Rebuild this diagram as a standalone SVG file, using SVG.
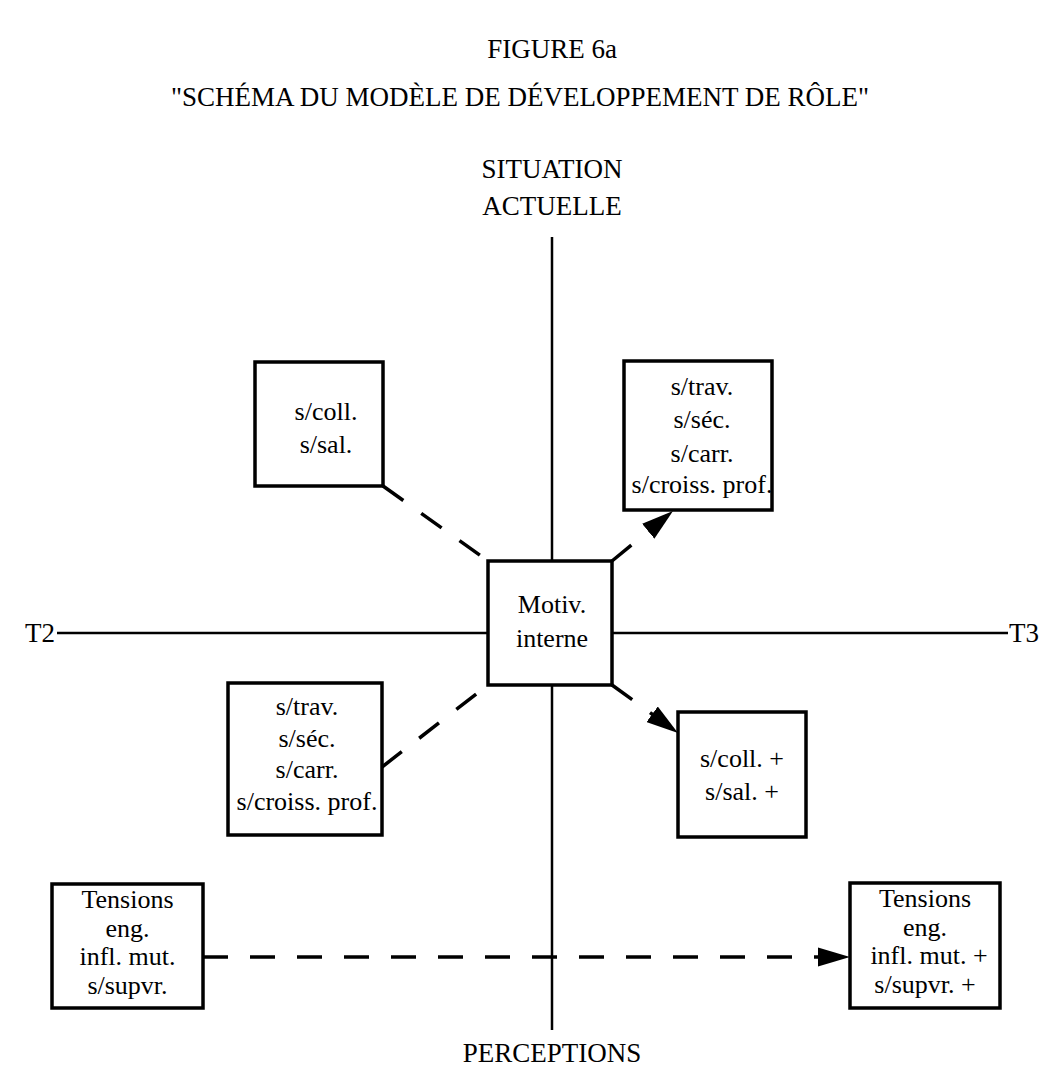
<svg xmlns="http://www.w3.org/2000/svg" width="1043" height="1085" viewBox="0 0 1043 1085">
<defs>
<style>
.box{fill:#fff;stroke:#000;stroke-width:3.5}
.t{font-family:"Liberation Serif","Times New Roman",serif;font-size:26px;fill:#000;text-anchor:middle}
.h{font-family:"Liberation Serif","Times New Roman",serif;font-size:27px;fill:#000;text-anchor:middle}
.axis{stroke:#000;stroke-width:2.5;fill:none}
.dash{stroke:#000;stroke-width:3.5;fill:none;stroke-dasharray:25 22}
</style>
<marker id="arr" markerUnits="userSpaceOnUse" markerWidth="32" markerHeight="20" refX="30" refY="9" orient="auto" viewBox="0 0 30 18">
<path d="M0,0 L30,9 L0,18 z" fill="#000"/>
</marker>
</defs>
<rect width="1043" height="1085" fill="#fff"/>
<g id="titles">
<text class="h" x="552" y="58" font-size="28">FIGURE 6a</text>
<text class="h" x="520" y="106" font-size="28.5">"SCHÉMA DU MODÈLE DE DÉVELOPPEMENT DE RÔLE"</text>
<text class="h" x="552" y="178">SITUATION</text>
<text class="h" x="552" y="215">ACTUELLE</text>
<text class="h" x="552" y="1062">PERCEPTIONS</text>
<text class="h" x="40" y="642">T2</text>
<text class="h" x="1024" y="642">T3</text>
</g>
<g id="connectors">
<line class="axis" x1="552" y1="237" x2="552" y2="1030"/>
<line class="axis" x1="57" y1="633" x2="1008" y2="633"/>
<line class="dash" x1="383" y1="486" x2="488" y2="561"/>
<line class="dash" x1="382" y1="767" x2="488" y2="685"/>
<line class="dash" x1="612" y1="561" x2="673" y2="511" marker-end="url(#arr)"/>
<line class="dash" x1="612" y1="685" x2="678" y2="733" marker-end="url(#arr)"/>
<line class="dash" x1="203" y1="957" x2="850" y2="957" marker-end="url(#arr)"/>
</g>
<g id="motiv">
<rect class="box" x="488" y="561" width="124" height="124"/>
<text class="t" x="552" y="613">Motiv.</text>
<text class="t" x="552" y="647">interne</text>
</g>
<g id="tl-box">
<rect class="box" x="255" y="362" width="128" height="124"/>
<text class="t" x="326" y="420">s/coll.</text>
<text class="t" x="326" y="453">s/sal.</text>
</g>
<g id="tr-box">
<rect class="box" x="624" y="361" width="148" height="149"/>
<text class="t" x="702" y="395">s/trav.</text>
<text class="t" x="702" y="428">s/séc.</text>
<text class="t" x="702" y="462">s/carr.</text>
<text class="t" x="702" y="493">s/croiss. prof.</text>
</g>
<g id="bl-box">
<rect class="box" x="228" y="683" width="154" height="152"/>
<text class="t" x="307" y="715">s/trav.</text>
<text class="t" x="307" y="747">s/séc.</text>
<text class="t" x="307" y="778">s/carr.</text>
<text class="t" x="307" y="810">s/croiss. prof.</text>
</g>
<g id="br-box">
<rect class="box" x="678" y="712" width="128" height="125"/>
<text class="t" x="742" y="767">s/coll. +</text>
<text class="t" x="742" y="800">s/sal. +</text>
</g>
<g id="tension-left">
<rect class="box" x="52" y="884" width="151" height="124"/>
<text class="t" x="127.5" y="908">Tensions</text>
<text class="t" x="127.5" y="937">eng.</text>
<text class="t" x="127.5" y="965">infl. mut.</text>
<text class="t" x="127.5" y="994">s/supvr.</text>
</g>
<g id="tension-right">
<rect class="box" x="850" y="883" width="150" height="125"/>
<text class="t" x="925" y="907">Tensions</text>
<text class="t" x="925" y="936">eng.</text>
<text class="t" x="929" y="964">infl. mut. +</text>
<text class="t" x="925" y="993">s/supvr. +</text>
</g>
</svg>
